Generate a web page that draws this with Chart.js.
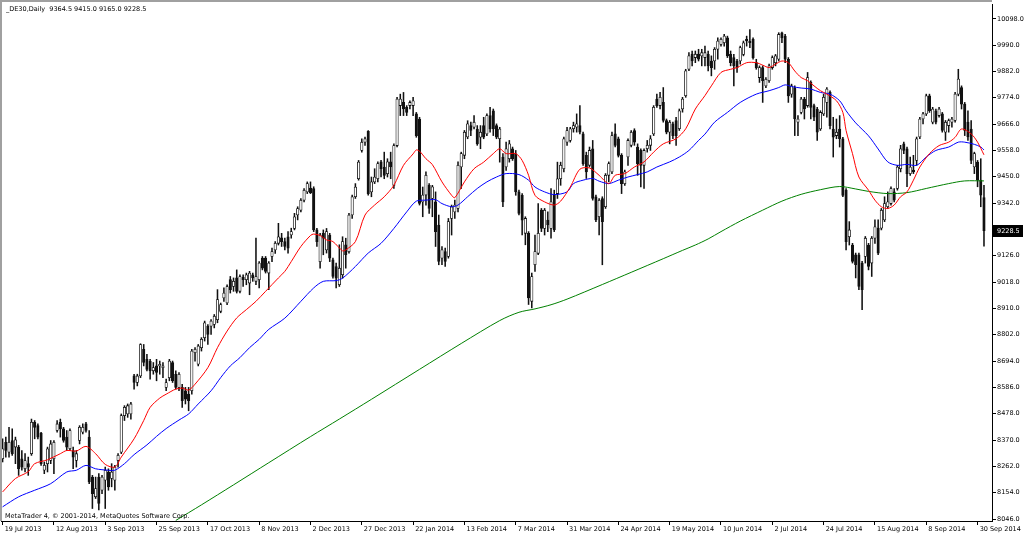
<!DOCTYPE html>
<html>
<head>
<meta charset="utf-8">
<script src="https://cdn.jsdelivr.net/npm/chart.js@4.4.1/dist/chart.umd.min.js"></script>
<style>
  html, body { margin: 0; padding: 0; background: #fff; }
  #wrap { position: relative; width: 1024px; height: 536px; }
</style>
</head>
<body>
<div id="wrap"><canvas id="chart" width="1024" height="536"></canvas></div>
<script>
// _DE30 daily bars (one value per trading day)
const opens = [8293,8361,8320,8368,8341,8341,8293,8252,8273,8314,8443,8429,8398,8246,8273,8286,8293,8409,8443,8416,
  8382,8334,8327,8286,8368,8402,8436,8382,8218,8137,8218,8164,8205,8239,8212,8205,8286,8320,8470,8477,
  8477,8633,8606,8633,8742,8701,8694,8654,8674,8674,8667,8586,8626,8688,8640,8586,8586,8572,8558,8572,
  8728,8681,8749,8790,8837,8837,8844,8864,8898,8953,8932,9028,9000,9035,8980,9037,9028,9014,9048,9021,
  9028,9116,9116,9055,9123,9150,9177,9200,9184,9204,9211,9238,9293,9313,9354,9388,9404,9402,9232,9102,
  9218,9150,9211,9109,9082,9007,9048,9171,9143,9293,9368,9442,9558,9592,9636,9388,9429,9442,9511,9490,
  9463,9511,9415,9578,9742,9755,9735,9742,9742,9708,9687,9347,9375,9415,9361,9347,9252,9116,9143,9123,
  9279,9306,9320,9490,9538,9613,9660,9653,9646,9612,9660,9626,9701,9721,9660,9606,9531,9490,9524,9565,
  9544,9388,9374,9218,9218,8939,9089,9136,9313,9238,9272,9238,9374,9381,9442,9483,9592,9599,9647,9653,
  9660,9626,9538,9497,9565,9368,9286,9361,9327,9456,9470,9626,9606,9538,9422,9531,9579,9640,9572,9558,
  9497,9565,9579,9626,9769,9742,9755,9681,9633,9667,9681,9647,9728,9783,9891,9953,9939,9953,9946,9939,
  9952,9925,9925,9973,9993,10000,10020,9952,9939,9925,9925,9952,10014,10007,10014,9918,9857,9898,9823,9844,
  9898,9918,9932,10041,10027,9932,9789,9816,9674,9714,9769,9742,9837,9742,9728,9646,9708,9755,9796,9646,
  9619,9646,9606,9395,9204,9170,9130,9130,9096,9123,9170,9096,9198,9239,9239,9273,9327,9340,9388,9402,
  9483,9585,9565,9463,9477,9517,9613,9687,9708,9782,9674,9721,9701,9708,9633,9660,9674,9681,9789,9816,
  9748,9674,9646,9490,9510,9436,9364.5];
const highs = [8375,8382,8422,8416,8382,8348,8327,8314,8300,8456,8450,8436,8402,8280,8341,8368,8368,8450,8456,8422,
  8409,8416,8341,8327,8429,8436,8443,8409,8225,8218,8232,8225,8259,8252,8273,8266,8314,8477,8511,8518,
  8525,8640,8640,8765,8762,8722,8701,8688,8701,8694,8688,8620,8701,8694,8654,8647,8599,8586,8586,8742,
  8749,8762,8790,8858,8844,8864,8885,8987,8932,8994,9007,9041,9035,9068,9048,9048,9055,9062,9055,9198,
  9102,9123,9123,9102,9157,9184,9259,9218,9198,9225,9239,9300,9327,9361,9402,9429,9429,9409,9238,9218,
  9232,9238,9218,9116,9096,9171,9204,9198,9300,9375,9422,9517,9606,9613,9640,9449,9483,9511,9517,9551,
  9524,9551,9585,9776,9789,9796,9742,9762,9776,9714,9694,9408,9470,9422,9415,9388,9293,9164,9157,9279,
  9334,9354,9511,9551,9640,9680,9674,9701,9660,9660,9694,9708,9735,9728,9667,9653,9545,9592,9599,9572,
  9558,9395,9381,9286,9225,9055,9211,9340,9320,9320,9306,9402,9395,9510,9510,9613,9653,9653,9674,9708,
  9742,9633,9551,9572,9599,9375,9361,9368,9463,9511,9633,9667,9613,9545,9477,9606,9640,9647,9585,9565,
  9565,9599,9619,9742,9789,9796,9816,9687,9681,9674,9694,9728,9776,9891,9959,9966,9966,9973,9973,9986,
  9966,9946,9980,10020,10020,10034,10027,9966,9952,9932,9986,10007,10027,10054,10020,9932,9905,9905,9857,9912,
  9946,9952,10041,10044,10034,9939,9830,9823,9701,9776,9776,9878,9844,9748,9735,9721,9789,9816,9803,9694,
  9687,9701,9612,9402,9266,9177,9137,9137,9103,9205,9177,9205,9273,9273,9320,9368,9388,9409,9402,9497,
  9579,9592,9572,9531,9538,9613,9694,9714,9789,9789,9735,9728,9735,9714,9681,9687,9694,9796,9891,9823,
  9755,9721,9681,9551,9517,9524,9415];
const lows = [8280,8300,8300,8307,8273,8225,8246,8239,8225,8307,8375,8375,8266,8232,8239,8273,8232,8402,8382,8361,
  8327,8327,8252,8259,8354,8395,8402,8191,8089,8130,8083,8150,8089,8164,8178,8164,8259,8314,8450,8463,
  8456,8579,8592,8626,8674,8654,8620,8640,8613,8640,8626,8572,8613,8606,8579,8572,8504,8518,8490,8558,
  8694,8674,8735,8776,8762,8803,8830,8851,8892,8939,8925,8973,8980,8973,8973,9000,9007,8966,9021,9007,
  8994,9068,9055,8987,9102,9136,9170,9164,9150,9137,9198,9232,9273,9306,9347,9381,9381,9225,9164,9075,
  9130,9137,9102,9034,8994,9000,9034,9075,9137,9279,9361,9436,9551,9579,9375,9368,9422,9429,9449,9442,
  9449,9442,9402,9572,9701,9701,9701,9728,9701,9612,9334,9286,9334,9300,9286,9164,9089,9089,9082,9116,
  9211,9279,9306,9402,9524,9606,9619,9646,9579,9565,9606,9619,9633,9619,9606,9510,9327,9476,9510,9517,
  9374,9293,9211,9171,8926,8912,9062,9130,9225,9211,9225,9198,9225,9361,9415,9470,9579,9592,9633,9633,
  9626,9497,9443,9490,9354,9266,9211,9089,9320,9429,9463,9572,9531,9381,9415,9497,9572,9579,9456,9408,
  9402,9551,9558,9619,9735,9728,9674,9626,9585,9606,9579,9640,9715,9776,9885,9905,9918,9925,9905,9905,
  9884,9864,9891,9932,9986,9986,9939,9905,9823,9878,9912,9946,9986,9980,9932,9891,9837,9755,9816,9837,
  9891,9905,9925,10000,9918,9755,9776,9619,9619,9708,9687,9735,9687,9680,9599,9640,9701,9694,9646,9531,
  9606,9572,9368,9150,9170,9096,9035,8987,8905,9096,9068,9041,9177,9130,9232,9266,9320,9334,9347,9395,
  9470,9545,9409,9456,9463,9497,9606,9667,9701,9714,9667,9667,9694,9633,9599,9633,9653,9674,9782,9728,
  9619,9599,9504,9463,9409,9327,9165];
const closes = [8334,8327,8361,8314,8371,8252,8259,8286,8259,8443,8422,8382,8273,8266,8334,8354,8361,8436,8416,8368,
  8341,8409,8300,8314,8422,8422,8409,8198,8150,8171,8110,8218,8246,8178,8239,8259,8307,8470,8504,8511,
  8518,8606,8633,8762,8688,8660,8654,8667,8647,8681,8674,8606,8694,8613,8586,8640,8531,8538,8531,8735,
  8742,8756,8783,8851,8803,8858,8878,8946,8926,8973,9000,8987,9021,8980,9041,9028,9048,9055,9035,9041,
  9096,9075,9062,9096,9143,9177,9204,9184,9164,9157,9225,9286,9320,9354,9395,9422,9385,9232,9184,9211,
  9198,9225,9116,9041,9034,9075,9184,9130,9293,9368,9408,9510,9592,9606,9381,9429,9449,9504,9483,9456,
  9511,9490,9578,9769,9769,9728,9714,9755,9762,9619,9341,9375,9456,9320,9409,9225,9103,9150,9103,9266,
  9327,9334,9497,9545,9633,9667,9640,9674,9585,9633,9612,9701,9646,9646,9612,9646,9347,9565,9585,9524,
  9388,9300,9272,9279,8953,9041,9143,9218,9238,9313,9252,9347,9232,9442,9497,9606,9640,9647,9660,9667,
  9633,9504,9470,9558,9361,9273,9354,9266,9456,9504,9619,9579,9538,9422,9470,9599,9633,9592,9504,9497,
  9558,9579,9606,9735,9742,9776,9681,9633,9674,9619,9619,9721,9769,9885,9946,9925,9953,9932,9959,9959,
  9905,9898,9973,10007,10014,10027,9946,9918,9905,9898,9980,10000,10007,10000,9939,9898,9898,9844,9850,9905,
  9939,9946,10034,10020,9932,9782,9823,9687,9687,9769,9728,9857,9735,9694,9633,9714,9776,9810,9660,9612,
  9633,9606,9374,9184,9232,9103,9089,9000,8987,9198,9082,9198,9245,9137,9313,9340,9347,9402,9354,9490,
  9565,9558,9463,9490,9470,9606,9687,9708,9782,9721,9728,9674,9728,9640,9674,9681,9687,9789,9851,9748,
  9640,9613,9517,9545,9436,9375,9228.5];

// moving averages as [bar index, value]
const redMA = [[0,8157],[4,8212],[8,8240],[10,8273],[14,8289],[18,8314],[20,8327],[23,8325],[26,8344],[29,8314],
  [32,8270],[35,8259],[37,8300],[41,8375],[44,8450],[46,8504],[49,8542],[51,8558],[54,8579],[56,8583],
  [58,8575],[60,8599],[64,8667],[67,8749],[70,8817],[73,8871],[76,8905],[79,8939],[82,8980],[86,9035],
  [88,9062],[90,9102],[93,9164],[96,9209],[97,9215],[99,9209],[101,9191],[103,9184],[106,9146],[107,9150],
  [110,9184],[113,9293],[116,9334],[119,9368],[122,9415],[125,9497],[128,9544],[129,9560],[130,9555],[132,9524],
  [134,9500],[137,9429],[140,9374],[141,9364],[144,9429],[147,9483],[150,9510],[153,9545],[155,9565],[157,9545],
  [160,9545],[162,9517],[164,9456],[166,9374],[169,9347],[172,9334],[174,9350],[177,9408],[180,9481],[183,9486],
  [186,9456],[189,9422],[191,9456],[194,9463],[197,9490],[200,9511],[203,9551],[206,9585],[210,9606],[213,9647],
  [216,9728],[219,9783],[221,9823],[224,9878],[227,9891],[229,9898],[232,9918],[235,9918],[237,9908],[239,9898],
  [241,9912],[243,9925],[245,9918],[247,9884],[249,9857],[251,9844],[253,9823],[255,9803],[257,9789],[260,9762],
  [262,9714],[263,9640],[265,9545],[267,9449],[270,9395],[272,9354],[274,9327],[276,9320],[278,9334],[280,9368],
  [282,9388],[284,9436],[286,9490],[289,9545],[292,9578],[295,9592],[297,9612],[299,9646],[302,9626],[304,9592],
  [306,9540]];
const blueMA = [[0,8096],[5,8137],[10,8164],[15,8191],[20,8239],[23,8246],[26,8266],[29,8252],[33,8246],[35,8246],
  [38,8273],[41,8310],[45,8350],[48,8385],[51,8417],[55,8452],[58,8477],[61,8518],[65,8572],[68,8626],
  [71,8674],[74,8708],[77,8749],[80,8783],[83,8824],[88,8870],[93,8939],[97,8994],[100,9021],[104,9024],
  [106,9034],[110,9082],[114,9137],[118,9177],[122,9238],[126,9306],[129,9350],[132,9354],[135,9356],[137,9340],
  [140,9327],[142,9334],[145,9368],[148,9402],[151,9429],[154,9449],[157,9463],[161,9459],[164,9436],[166,9408],
  [169,9388],[172,9377],[176,9388],[178,9422],[181,9436],[184,9443],[186,9432],[189,9422],[192,9436],[195,9449],
  [198,9459],[201,9470],[204,9490],[208,9511],[211,9531],[214,9558],[217,9599],[219,9625],[222,9674],[226,9714],
  [230,9755],[235,9789],[239,9803],[242,9816],[244,9827],[246,9820],[249,9814],[252,9810],[255,9796],[258,9789],
  [261,9762],[263,9721],[266,9671],[270,9618],[273,9564],[276,9511],[279,9497],[282,9501],[285,9497],[288,9531],
  [291,9558],[295,9572],[298,9592],[300,9592],[303,9583],[305,9572],[306,9560]];
const greenMA = [[54,8040],[62,8104],[72,8186],[83,8277],[96,8384],[105,8456],[115,8537],[130,8660],[143,8766],
  [155,8860],[161,8894],[166,8908],[171,8925],[176,8948],[187,9008],[196,9058],[206,9114],[212,9148],[216,9170],
  [220,9195],[224,9225],[230,9268],[237,9313],[243,9350],[249,9378],[255,9397],[261,9410],[266,9400],[270,9390],
  [276,9381],[282,9385],[288,9402],[295,9422],[300,9433],[306,9433]];

// axis labels
const dateLabels = ['19 Jul 2013','12 Aug 2013','3 Sep 2013','25 Sep 2013','17 Oct 2013','8 Nov 2013','2 Dec 2013',
  '27 Dec 2013','22 Jan 2014','13 Feb 2014','7 Mar 2014','31 Mar 2014','24 Apr 2014','19 May 2014','10 Jun 2014',
  '2 Jul 2014','24 Jul 2014','15 Aug 2014','8 Sep 2014','30 Sep 2014'];
const yTicks = [8046,8154,8262,8370,8478,8586,8694,8802,8910,9018,9126,9234,9342,9450,9558,9666,9774,9882,9990,10098];

const nBars = closes.length;
const nSlots = nBars + 2; // chart shift: two empty slots on the right
const labels = Array.from({ length: nSlots }, (_, i) => String(i));
const expand = pairs => {
  const arr = new Array(nSlots).fill(null);
  pairs.forEach(([i, v]) => { arr[i] = v; });
  return arr;
};
const FONT = { family: 'DejaVu Sans', size: 6.5 };
const last = nBars - 1;
const titleText = '_DE30,Daily  ' + [opens[last], highs[last], lows[last], closes[last]].map(v => v.toFixed(1)).join(' ');
const isLabelled = i => i % 16 === 0 && i / 16 < dateLabels.length;

const overlay = {
  id: 'overlay',
  beforeDraw(chart) {
    const { ctx } = chart;
    ctx.save();
    ctx.fillStyle = '#fff';
    ctx.fillRect(0, 0, chart.width, chart.height);
    ctx.restore();
  },
  afterDraw(chart) {
    const { ctx, chartArea: a, scales: { y } } = chart;
    ctx.save();
    ctx.fillStyle = '#a0a0a0';
    ctx.fillRect(0, 0, a.right, 2);
    ctx.fillRect(0, 0, 2, a.bottom);
    ctx.fillStyle = '#000';
    ctx.font = '6.5px "DejaVu Sans"';
    ctx.textBaseline = 'alphabetic';
    ctx.textAlign = 'left';
    ctx.fillText(titleText, 6, 11);
    ctx.fillText('MetaTrader 4, \u00a9 2001-2014, MetaQuotes Software Corp.', 5, 518);
    // current price tag on the price axis
    const py = Math.round(y.getPixelForValue(closes[last]));
    ctx.fillRect(a.right + 1, py - 6, 30, 12);
    ctx.fillStyle = '#fff';
    ctx.textBaseline = 'middle';
    ctx.fillText(closes[last].toFixed(1), a.right + 5, py + 0.5);
    ctx.restore();
  }
};

new Chart(document.getElementById('chart'), {
  type: 'bar',
  data: {
    labels: labels,
    datasets: [
      { // high-low wicks
        type: 'bar',
        data: lows.map((l, i) => [l, highs[i]]),
        backgroundColor: '#111',
        borderWidth: 0,
        barThickness: 0.9,
        grouped: false,
        order: 3
      },
      { // open-close bodies
        type: 'bar',
        data: opens.map((o, i) => [o, closes[i]]),
        backgroundColor: opens.map((o, i) => closes[i] >= o ? '#fff' : '#111'),
        borderColor: '#111',
        borderWidth: 0.8,
        borderSkipped: false,
        barThickness: 2.5,
        minBarLength: 1,
        grouped: false,
        order: 2
      },
      {
        type: 'line', data: expand(redMA), borderColor: '#ff0000', borderWidth: 1,
        pointRadius: 0, spanGaps: true, tension: 0.3, order: 1
      },
      {
        type: 'line', data: expand(blueMA), borderColor: '#0000ff', borderWidth: 1,
        pointRadius: 0, spanGaps: true, tension: 0.3, order: 1
      },
      {
        type: 'line', data: expand(greenMA), borderColor: '#008000', borderWidth: 1,
        pointRadius: 0, spanGaps: true, tension: 0.3, order: 1
      }
    ]
  },
  options: {
    responsive: false,
    animation: false,
    events: [],
    layout: { padding: { left: 1, top: 2, right: 0, bottom: 0 } },
    plugins: { legend: { display: false }, tooltip: { enabled: false } },
    scales: {
      x: {
        type: 'category',
        offset: true,
        grid: {
          offset: false,
          drawOnChartArea: false,
          tickLength: 4,
          color: ctx => isLabelled(ctx.index) ? '#000' : 'rgba(0,0,0,0)'
        },
        border: { display: true, color: '#000', width: 1 },
        ticks: {
          autoSkip: false,
          maxRotation: 0,
          minRotation: 0,
          align: 'start',
          padding: 0,
          font: FONT,
          color: '#000',
          callback: (v, i) => isLabelled(i) ? ' ' + dateLabels[i / 16] : ''
        },
        afterFit: s => { s.height = 15; }
      },
      y: {
        position: 'right',
        min: 8037.8,
        max: 10155.1,
        grid: { drawOnChartArea: false, tickLength: 4, color: '#000' },
        border: { display: true, color: '#000', width: 1 },
        ticks: { padding: 1, font: FONT, color: '#000', callback: v => Number(v).toFixed(1) },
        afterBuildTicks: s => { s.ticks = yTicks.map(v => ({ value: v })); },
        afterFit: s => { s.width = 32; }
      }
    }
  },
  plugins: [overlay]
});
</script>
</body>
</html>
